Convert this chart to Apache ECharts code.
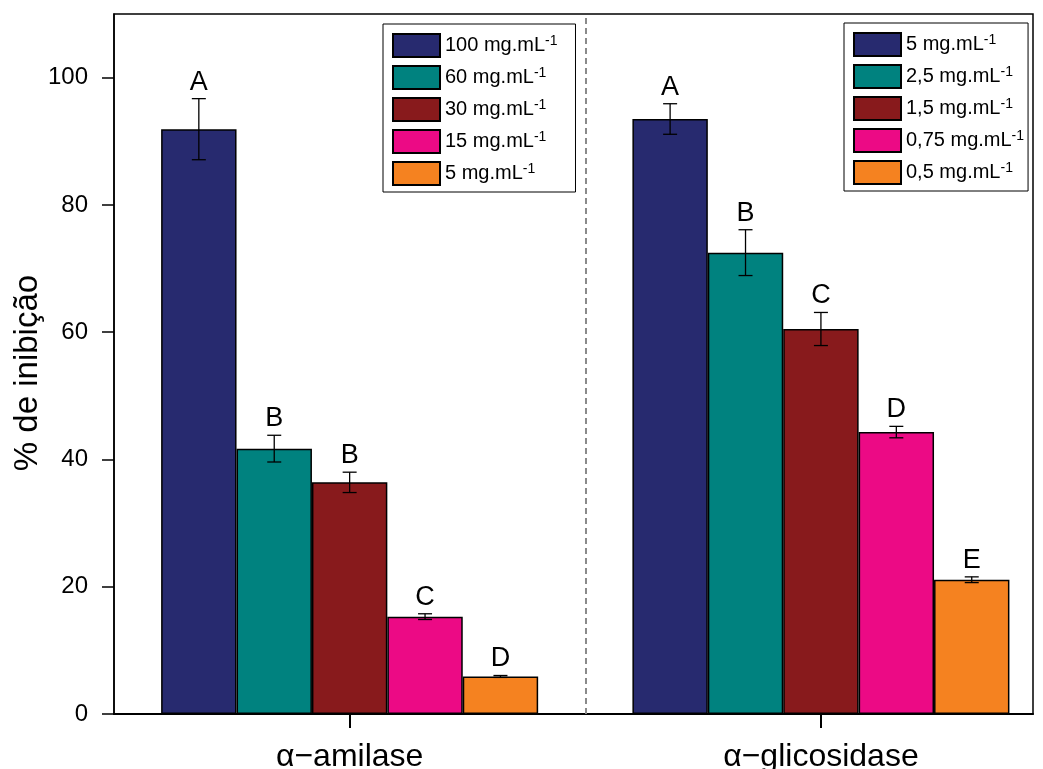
<!DOCTYPE html>
<html>
<head>
<meta charset="utf-8">
<script src="https://cdn.jsdelivr.net/npm/echarts@6/dist/echarts.min.js"></script>
<style>
  html, body { margin: 0; padding: 0; background: #fff; }
  #chart { width: 1043px; height: 769px; }
</style>
</head>
<body>
<div id="chart"></div>
<script>
// Enzymes on the x axis
const ENZYMES = ['α−amilase', 'α−glicosidase'];

// Extract concentrations tested for each enzyme (mg.mL-1)
const AMILASE_CONC = ['100', '60', '30', '15', '5'];
const GLICOSIDASE_CONC = ['5', '2,5', '1,5', '0,75', '0,5'];

// Mean inhibition (%) and standard deviation
const AMILASE_MEAN = [91.9, 41.7, 36.4, 15.3, 5.9];
const AMILASE_ERR = [4.8, 2.1, 1.6, 0.45, 0.15];
const AMILASE_LETTER = ['A', 'B', 'B', 'C', 'D'];

const GLICOSIDASE_MEAN = [93.5, 72.5, 60.5, 44.3, 21.1];
const GLICOSIDASE_ERR = [2.4, 3.6, 2.6, 0.9, 0.45];
const GLICOSIDASE_LETTER = ['A', 'B', 'C', 'D', 'E'];

// Y axis tick values
const Y_TICKS = [0, 20, 40, 60, 80, 100];

const COLORS = ['#272A6F', '#00827F', '#881A1C', '#EC0A85', '#F58220'];
const FONT = '"Liberation Sans", Arial, sans-serif';
const BAR_FRACTION = 0.16;   // bar width as share of the distance between enzymes
const LETTER_GAP = 10;       // px between error bar cap and significance letter

const groups = [
  { key: 'amilase', x: 1, conc: AMILASE_CONC, mean: AMILASE_MEAN, err: AMILASE_ERR, letters: AMILASE_LETTER },
  { key: 'glicosidase', x: 2, conc: GLICOSIDASE_CONC, mean: GLICOSIDASE_MEAN, err: GLICOSIDASE_ERR, letters: GLICOSIDASE_LETTER }
];

const seriesName = (g, i) => g.key + ': ' + g.conc[i];

const series = [];
groups.forEach((g, gi) => {
  g.mean.forEach((m, i) => {
    series.push({
      type: 'bar',
      name: seriesName(g, i),
      stack: 'slot' + i,
      barWidth: (BAR_FRACTION * 100) + '%',
      barGap: '0%',
      data: groups.map((h, hi) => [h.x, hi === gi ? m : '-']),
      itemStyle: { color: COLORS[i], borderColor: '#000', borderWidth: 1.5 },
      emphasis: { disabled: true },
      silent: true
    });
  });
});

// Error bars and significance letters
const errData = [];
groups.forEach(g => {
  g.mean.forEach((m, i) => errData.push([g.x, m, g.err[i], i, g.letters[i]]));
});

series.push({
  type: 'custom',
  name: 'errorbars',
  silent: true,
  z: 5,
  encode: { x: 0, y: 1 },
  data: errData.map(d => [d[0], d[1], d[2], d[3]]),
  // Dashed separator between the two enzymes
  markLine: {
    silent: true,
    symbol: 'none',
    label: { show: false },
    lineStyle: { color: '#8a8a8a', type: [6, 4], width: 2 },
    data: [{ xAxis: 1.5 }]
  },
  renderItem(params, api) {
    const x = api.value(0), m = api.value(1), e = api.value(2), slot = api.value(3);
    const bw = api.size([BAR_FRACTION, 0])[0];
    const cx = api.coord([x, m])[0] + (slot - 2) * bw;
    const top = api.coord([x, m + e])[1];
    const bottom = api.coord([x, m - e])[1];
    const cap = 7;
    const ls = { stroke: '#000', lineWidth: 1.3 };
    return {
      type: 'group',
      children: [
        { type: 'line', shape: { x1: cx, y1: top, x2: cx, y2: bottom }, style: ls },
        { type: 'line', shape: { x1: cx - cap, y1: top, x2: cx + cap, y2: top }, style: ls },
        { type: 'line', shape: { x1: cx - cap, y1: bottom, x2: cx + cap, y2: bottom }, style: ls },
        {
          type: 'text',
          style: {
            text: errData[params.dataIndex][4],
            x: cx, y: top - LETTER_GAP + 7,
            align: 'center', verticalAlign: 'bottom',
            font: '27px ' + FONT, fill: '#000'
          }
        }
      ]
    };
  }
});

const legendBase = {
  orient: 'vertical',
  icon: 'rect',
  itemWidth: 47,
  itemHeight: 23,
  itemGap: 7,
  borderColor: '#000',
  borderWidth: 1,
  backgroundColor: '#fff',
  selectedMode: false,
  formatter: name => '{t|' + name.split(': ')[1] + ' mg.mL}{s|-1}',
  textStyle: {
    color: '#000',
    fontFamily: FONT,
    fontSize: 20,
    rich: {
      t: { fontSize: 20, fontFamily: FONT, color: '#000', lineHeight: 22 },
      s: { fontSize: 14, fontFamily: FONT, color: '#000', verticalAlign: 'top', lineHeight: 22 }
    }
  }
};

const option = {
  animation: false,
  backgroundColor: '#fff',
  grid: {
    left: 114, right: 10, top: 14, bottom: 55,
    outerBoundsMode: 'none',
    containLabel: false,
    show: true, borderColor: '#000', borderWidth: 1.5, backgroundColor: 'transparent'
  },
  legend: [
    Object.assign({}, legendBase, {
      data: AMILASE_CONC.map((c, i) => seriesName(groups[0], i)),
      left: 383, top: 24, padding: [9, 18, 6, 9]
    }),
    Object.assign({}, legendBase, {
      data: GLICOSIDASE_CONC.map((c, i) => seriesName(groups[1], i)),
      left: 844, top: 23, padding: [9, 4, 6, 9]
    })
  ],
  xAxis: {
    type: 'value',
    min: 0.5,
    max: 2.45,
    splitLine: { show: false },
    axisLine: { lineStyle: { color: '#000', width: 2 } },
    axisTick: { customValues: [1, 2], length: 14, lineStyle: { color: '#000', width: 2 } },
    axisLabel: {
      customValues: [1, 2],
      formatter: v => ENZYMES[Math.round(v) - 1],
      fontSize: 32, fontFamily: FONT, color: '#000', margin: 27
    }
  },
  yAxis: {
    type: 'value',
    min: 0,
    max: 110,
    interval: 20,
    name: '% de inibição',
    nameLocation: 'middle',
    nameRotate: 90,
    nameGap: 70,
    nameMoveOverlap: false,
    nameTextStyle: { fontSize: 33, fontFamily: FONT, color: '#000', padding: [0, 18, 0, 0] },
    splitLine: { show: false },
    axisLine: { show: true, lineStyle: { color: '#000', width: 1.5 } },
    axisTick: { show: true, customValues: Y_TICKS, length: 12, lineStyle: { color: '#000', width: 1.5 } },
    axisLabel: { customValues: Y_TICKS, fontSize: 24, fontFamily: FONT, color: '#000', margin: 26 }
  },
  series
};

echarts.init(document.getElementById('chart')).setOption(option);
</script>
</body>
</html>
